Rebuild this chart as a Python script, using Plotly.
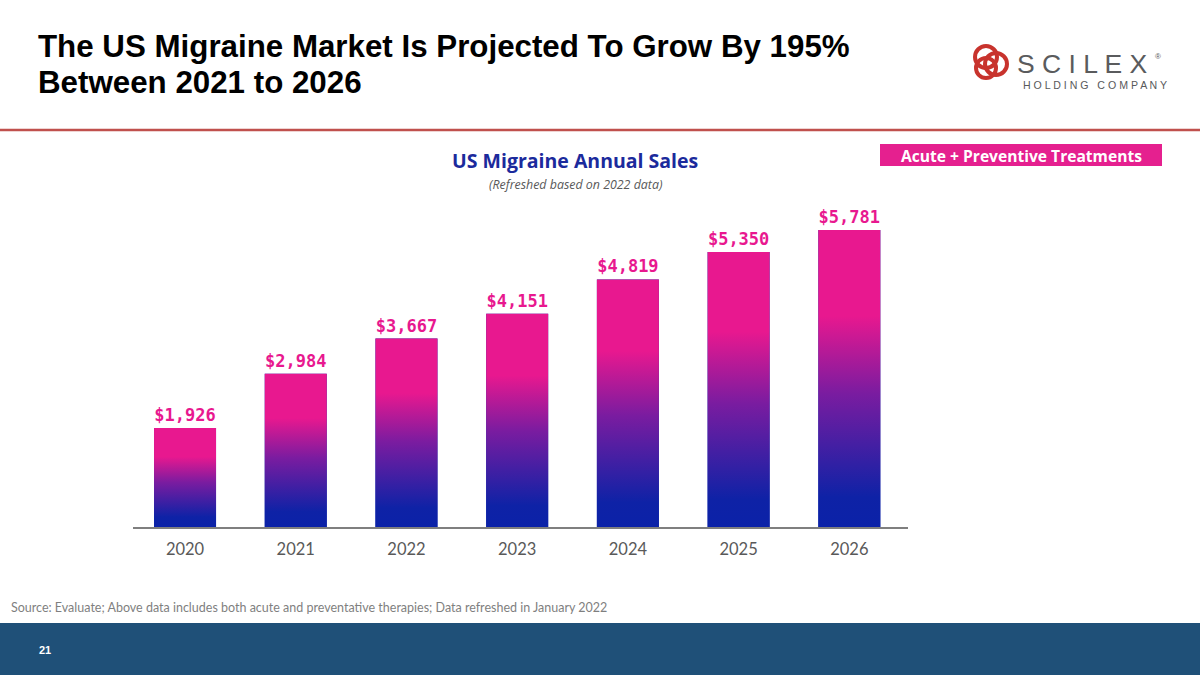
import plotly.graph_objects as go

years = ["2020", "2021", "2022", "2023", "2024", "2025", "2026"]
sales = [1926, 2984, 3667, 4151, 4819, 5350, 5781]

title_line1 = "The US Migraine Market Is Projected To Grow By 195%"
title_line2 = "Between 2021 to 2026"
chart_title = "US Migraine Annual Sales"
chart_subtitle = "(Refreshed based on 2022 data)"
legend_text = "Acute + Preventive Treatments"
source_text = "Source: Evaluate; Above data includes both acute and preventative therapies; Data refreshed in January 2022"
page_no = "21"

W, H = 1200, 675
L, R, T, B = 133, 908, 193, 527  # plot area in px
BAR_W = 0.56
PINK = "#E8188F"
BLUE = "#0B22A8"
grad = [[0.0, BLUE], [0.10, "#0E22A6"], [0.45, "#7A1CA0"], [0.71, PINK], [1.0, PINK]]


def px(x):
    return (x - L) / (R - L)


def py(y):
    return (B - y) / (B - T)


fig = go.Figure()
xs = list(range(len(years)))
fig.add_trace(go.Bar(
    x=xs, y=sales, width=BAR_W, marker=dict(color=BLUE, line=dict(width=0)),
    texttemplate="$%{y:,}", textposition="outside", cliponaxis=False,
    textfont=dict(family="DejaVu Sans Mono", size=17, color=PINK, weight="bold"),
    hoverinfo="skip", showlegend=False,
))
for i, v in zip(xs, sales):
    fig.add_trace(go.Scatter(
        x=[i - BAR_W / 2, i + BAR_W / 2, i + BAR_W / 2, i - BAR_W / 2, i - BAR_W / 2],
        y=[0, 0, v, v, 0], mode="lines", fill="toself",
        fillgradient=dict(type="vertical", colorscale=grad),
        line=dict(width=0), hoverinfo="skip", showlegend=False,
    ))

shapes = []
annotations = []
# red rule under heading
shapes.append(dict(type="line", xref="paper", yref="paper", x0=px(0), x1=px(W), y0=py(130), y1=py(130),
                   line=dict(color="#C0504D", width=2.5)))
# footer band
shapes.append(dict(type="rect", xref="paper", yref="paper", x0=px(0), x1=px(W), y0=py(623), y1=py(H),
                   fillcolor="#1F5078", line=dict(width=0), layer="below"))
# legend box
shapes.append(dict(type="rect", xref="paper", yref="paper", x0=px(880), x1=px(1162), y0=py(144), y1=py(166),
                   fillcolor="#E5208F", line=dict(width=0)))
# logo swirl (simplified)
for (cx, cy, r) in [(986, 57, 11), (996, 64, 11), (986, 68, 10)]:
    shapes.append(dict(type="circle", xref="paper", yref="paper",
                       x0=px(cx - r), x1=px(cx + r), y0=py(cy - r), y1=py(cy + r),
                       line=dict(color="#C8332D", width=4)))

annotations.append(dict(text=title_line1, x=px(36), y=py(46), xref="paper", yref="paper",
                        xanchor="left", yanchor="middle", align="left", showarrow=False,
                        font=dict(family="Liberation Sans", size=31.3, color="#000000", weight="bold")))
annotations.append(dict(text=title_line2, x=px(36), y=py(82), xref="paper", yref="paper",
                        xanchor="left", yanchor="middle", align="left", showarrow=False,
                        font=dict(family="Liberation Sans", size=31.3, color="#000000", weight="bold")))
annotations.append(dict(text="S C I L E X", x=px(1015), y=py(64), xref="paper", yref="paper",
                        xanchor="left", yanchor="middle", showarrow=False,
                        font=dict(family="Liberation Sans", size=26.5, color="#5A5B5D")))
annotations.append(dict(text="®", x=px(1153), y=py(57), xref="paper", yref="paper",
                        xanchor="left", yanchor="middle", showarrow=False,
                        font=dict(family="Liberation Sans", size=8, color="#58595B")))
annotations.append(dict(text="H O L D I N G   C O M P A N Y", x=px(1095), y=py(85), xref="paper", yref="paper",
                        xanchor="center", yanchor="middle", showarrow=False,
                        font=dict(family="Liberation Sans", size=10.6, color="#58595B")))
annotations.append(dict(text=legend_text, x=px(1021), y=py(155.5), xref="paper", yref="paper",
                        xanchor="center", yanchor="middle", showarrow=False,
                        font=dict(family="Open Sans", size=15.6, color="#FFFFFF", weight="bold")))
annotations.append(dict(text=chart_title, x=px(575), y=py(161), xref="paper", yref="paper",
                        xanchor="center", yanchor="middle", showarrow=False,
                        font=dict(family="Open Sans", size=19.5, color="#1B2A9C", weight="bold")))
annotations.append(dict(text="<i>" + chart_subtitle + "</i>", x=px(576), y=py(184), xref="paper", yref="paper",
                        xanchor="center", yanchor="middle", showarrow=False,
                        font=dict(family="Open Sans", size=12.4, color="#595959")))
annotations.append(dict(text=source_text, x=px(9), y=py(607), xref="paper", yref="paper",
                        xanchor="left", yanchor="middle", showarrow=False,
                        font=dict(family="Lato", size=12.5, color="#7F7F7F")))
annotations.append(dict(text="<b>" + page_no + "</b>", x=px(45), y=py(650), xref="paper", yref="paper",
                        xanchor="center", yanchor="middle", showarrow=False,
                        font=dict(family="Liberation Sans", size=11, color="#FFFFFF")))

fig.update_layout(
    width=W, height=H, autosize=False,
    margin=dict(l=L, r=W - R, t=T, b=H - B, pad=0),
    paper_bgcolor="white", plot_bgcolor="white",
    shapes=shapes, annotations=annotations, showlegend=False,
    xaxis=dict(range=[-0.47, 6.53], tickmode="array", tickvals=xs, ticktext=years,
               showgrid=False, zeroline=False, showline=True, linecolor="#7F7F7F", linewidth=2,
               ticks="", tickfont=dict(family="Lato", size=16.5, color="#595959"), ticklabelstandoff=6,
               fixedrange=True),
    yaxis=dict(range=[0, 6500], visible=False, fixedrange=True),
)

fig.write_html("out.html", config={"displayModeBar": False},
               post_script="document.body.style.margin='0';document.body.style.overflow='hidden';")
